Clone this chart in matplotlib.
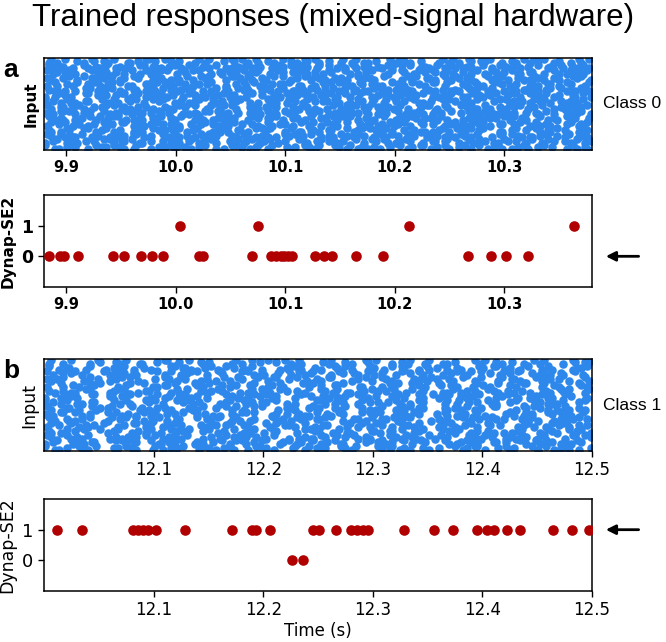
import matplotlib.pyplot as plt

# texts
title = "Trained responses (mixed-signal hardware)"
class_labels = ["Class 0", "Class 1"]

# time windows and ticks
window_a = (9.88, 10.38)
window_b = (12.0, 12.5)
xticks_a = [9.9, 10.0, 10.1, 10.2, 10.3]
xticks_b = [12.1, 12.2, 12.3, 12.4, 12.5]

# Dynap-SE2 output spikes, neuron 0 and neuron 1
a_out0 = [9.885, 9.8946, 9.8985, 9.9108, 9.9428, 9.9528, 9.9686, 9.9782, 9.9882,
          10.0218, 10.0249, 10.0696, 10.0873, 10.0919, 10.0958, 10.0992, 10.1023,
          10.1066, 10.1277, 10.1351, 10.1424, 10.1647, 10.1890, 10.2665, 10.2881,
          10.3019, 10.3220]
a_out1 = [10.004, 10.0755, 10.2133, 10.3636]
b_out0 = [12.2263, 12.2361]
b_out1 = [12.0116, 12.0347, 12.0808, 12.0855, 12.0902, 12.0945, 12.1020, 12.1285,
          12.1716, 12.1899, 12.1931, 12.2060, 12.2458, 12.2505, 12.2662, 12.2803,
          12.2857, 12.2908, 12.2959, 12.3283, 12.3557, 12.3733, 12.3952, 12.4046,
          12.4101, 12.4222, 12.4339, 12.4644, 12.4816, 12.4969]

# input raster, one string per channel, one char per time bin
# '.' = no spike, digit = spike, digit gives the sub-bin spot (1..9)
input_a = [
    "3718.5294628.3159749614.3827.594829163.75294816.3727215.938416..3827194657.1629384735.29184635172",
    "92643.81517352.986415829..4173361715.2948284379.12915162849.73518392354.72963815.7349163827.59183",
    "824571.93646.1839257739488.261529367.18462715394.81269..2794385942716.17284593164.1923852764185",
    "51.4728636972495.38436182957.397481629.72593841663.85519..3927641938451.9247163384162.9573816",
    "291638.47157832.648941742568.3.591827564731.291785294632.7418529737.6294198425.37164295.3816",
    "6342.19835772.64391863584.12791965.3842731596.482834217256962..41535194738.2626481579351726",
    "13852.976.4697283517143963285824.176.639258715471819.36852581473369.3285147.471962835.61834",
    "75392164.82819472968.25368.9146573.19813742756592.18437376.49215.8853217.6992453857163528",
    "8164392.4578341563.621749.383892.651574.63842.28391754615283.697294.85318163847259.36281474",
    "42977158.936182745945.3361878246.632951847.84736295591384.726813749.5952836714.46183.925736",
    "9361.148275872391647628.38135924.28464716539.54817726119.3858455271.363694482751.8361924.56",
    "275836.1491497382585631.468628175.4192653.72728519.6383592471946.36822857164.4739251.683472",
    "61394.8725725.381966947257.33816429957.283164164.935785271.46323682951757.3168.4926175.3846",
    "849251736.36149725.8281539474.6291363.184759.26296385.1717496.3853528417.2979623158.4273619",
    "1573826.4992648315.5341672881.5934724725.931686814.7295923584.16467.1928532845.17396.528361",
    "732694.185485137.2669274158.1298536738.6149527.9537241416.835972592.471836813692.475.392614",
]
input_b = [
    "37.18..294.628.31.597.49.614..382.759.48291..637.52.948..1637.27.215..938.416.3.827..19465.71629.38",
    "9.264.38..15173.52..98641.5829.4.173..36171.52.9482..843.791.2915.162..849735.18.392..3547.29638.1",
    "82.4571..936.461..839.25773.94..88261.5.29367..18462.715.39.481..269.279.43859..427161.72.845931.64",
    "5147..286.369.72..495384.36.18295..7397.48.16297..2593.841..66385.519.39..27641.93845.1.9247..16338",
    "2.9163.847..157.832648..9417.425.68.3591..8275.647.31..2917.852.9463..27418.5297.3762..9419.8425.37",
    "63.42198..3577.264..3918.63584..1279.196.53..842731.596.48.2834..217256.962.4153..51947.382.626481.5",
    "1.3852.97.64697..2835.17143..963.285824..176.63925.8715..471.819368.5258..1473.36932.85..1474719.62",
    "7539.2164..8281.9472.96825..368.91465.73.1..981374.2756.592.184..37376.4921.58..853217.69.92453.857",
    "81.643.92457..8341563..6217.49383.89..2651.574.638..4228.391754..6152836.97..294853.18163..847259.3",
    "4297.715..8936.1827.459..4533.61878..246.6329.5184..7847.36295..591384.72..681374.95952.8..3671446",
    "93.61148..2758.7239.164..7628.38135..924284.647..16539.548177..2611.9385.845..5271.36369.44..82751",
    "275.836149..149738.2585..631468.62..8175419.265..3727285.19638..3592.471946..3682.285716.4473..925",
    "6139.48..7257.2538.19669..4725.7338.164..29957.2831..641649.357..8527.1463.2368..2951.7573.1684..92",
    "84.92517..3636149.725828..1539.4746.29..1363184.759262..963851.7174..96385.35284.17..2979623.158427",
    "157.38264..99264.83155..3416.7288159..34724.725931..686814.7295..9235841.646..7192853.284..5173965",
    "7326.9418..54851.372669..2741581.29853..6738614.9527..9537241.416..835972.5924..71836813.692..4753",
]
n_bins = 90

blue = "#2E88EC"
red = "#B00000"


def decode_raster(rows, t0, t1):
    ts, ys = [], []
    n_rows = len(rows)
    for r, row in enumerate(rows):
        for c, ch in enumerate(row[:n_bins]):
            if ch == ".":
                continue
            d = int(ch) - 1
            dx = (d % 3 - 1) * 0.33
            dy = (d // 3 - 1) * 0.33
            ts.append(t0 + (c + 0.5 + dx) / n_bins * (t1 - t0))
            ys.append(n_rows - 1 - r + dy)
    return ts, ys


fig = plt.figure(figsize=(6.66, 6.42), dpi=100)
fig.text(0.5, 0.972, title, ha="center", va="center", fontsize=22.5,
         family="Liberation Sans")

left, width, height = 0.066, 0.823, 0.1433
bottoms = [0.7664, 0.5530, 0.2975, 0.0794]

panels = [
    (input_a, window_a, xticks_a, a_out0, a_out1, "bold", 10.5, 11, 12.5, 0, "a"),
    (input_b, window_b, xticks_b, b_out0, b_out1, "normal", 12, 12.5, 13, 1, "b"),
]

for k, (rows, win, xt, out0, out1, weight, tsize, lsize, ysize, arrow_y, letter) in enumerate(panels):
    ax_in = fig.add_axes([left, bottoms[2 * k], width, height])
    ax_out = fig.add_axes([left, bottoms[2 * k + 1], width, height])

    ts, ys = decode_raster(rows, *win)
    ax_in.scatter(ts, ys, s=38, color=blue, linewidths=0)
    ax_in.set_xlim(*win)
    ax_in.set_ylim(-0.5, len(rows) - 0.5)
    ax_in.set_yticks([])
    ax_in.set_xticks(xt)
    ax_in.set_xticklabels([f"{v:.1f}" for v in xt], fontsize=tsize, fontweight=weight)
    ax_in.set_ylabel("Input", fontsize=lsize, fontweight=weight)
    ax_in.text(1.02, 0.5, class_labels[k], transform=ax_in.transAxes, ha="left",
               va="center", fontsize=12.5, family="Liberation Sans")
    fig.text(0.005, bottoms[2 * k] + height - 0.018, letter, fontsize=19,
             fontweight="bold", family="Liberation Sans", ha="left", va="center")

    ax_out.scatter(out0, [0] * len(out0), s=58, color=red, linewidths=0, zorder=3)
    ax_out.scatter(out1, [1] * len(out1), s=58, color=red, linewidths=0, zorder=3)
    ax_out.set_xlim(*win)
    ax_out.set_ylim(-1, 2)
    ax_out.set_yticks([0, 1])
    ax_out.set_yticklabels(["0", "1"], fontsize=ysize, fontweight=weight)
    ax_out.set_xticks(xt)
    ax_out.set_xticklabels([f"{v:.1f}" for v in xt], fontsize=tsize, fontweight=weight)
    ax_out.set_ylabel("Dynap-SE2", fontsize=lsize, fontweight=weight)
    ax_out.annotate("", xy=(1.02, arrow_y), xytext=(1.09, arrow_y),
                    xycoords=("axes fraction", "data"), textcoords=("axes fraction", "data"),
                    annotation_clip=False,
                    arrowprops=dict(arrowstyle="-|>", color="black", lw=2,
                                    mutation_scale=14))
    for ax in (ax_in, ax_out):
        for sp in ax.spines.values():
            sp.set_linewidth(1.1)
        ax.tick_params(length=4, width=1)
    if k == 1:
        ax_out.set_xlabel("Time (s)", fontsize=12, labelpad=2)

fig.savefig("out.png", dpi=100)
